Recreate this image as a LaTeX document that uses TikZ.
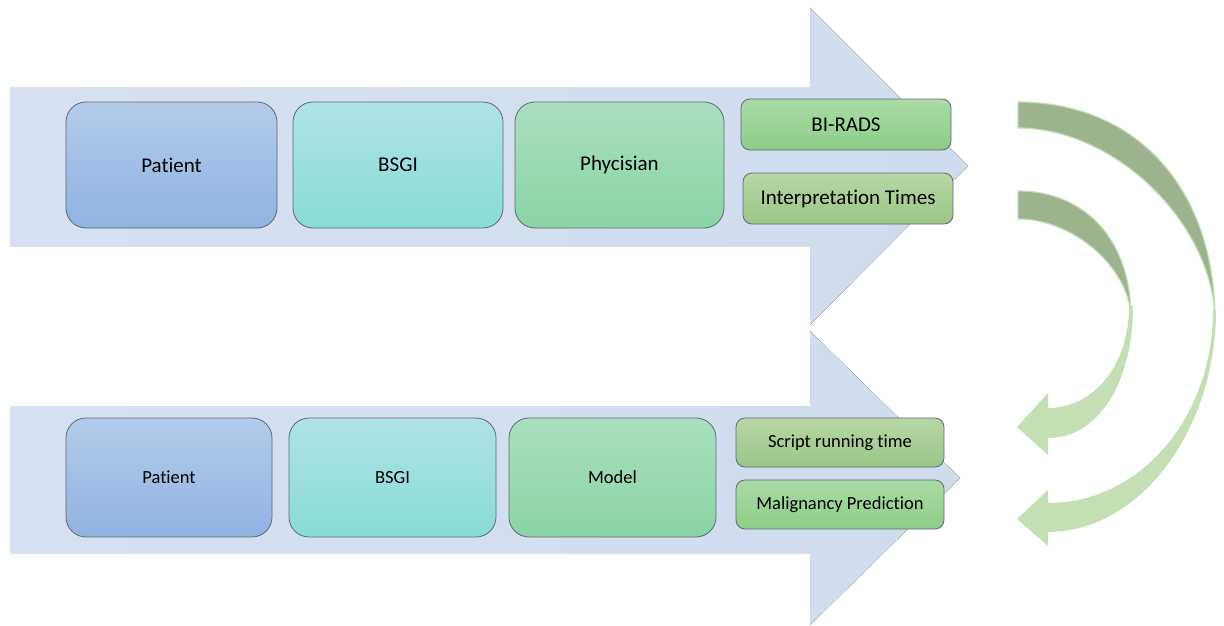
\documentclass[tikz,border=0pt]{standalone}
\usepackage{fontspec}
\setmainfont[Ligatures={NoCommon,NoRare}, RawFeature={-calt}]{Carlito}
\usepackage{xcolor}
\usepackage{tikz}
\usetikzlibrary{positioning,shapes,arrows}
\definecolor{flowblue}{HTML}{D0DCEE}
\definecolor{flowbluel}{HTML}{D6E0F0}
\definecolor{patienttop}{HTML}{B4CCEB}
\definecolor{patientbot}{HTML}{8FB3E2}
\definecolor{bsgitop}{HTML}{AEE2E6}
\definecolor{bsgibot}{HTML}{88DCD6}
\definecolor{readtop}{HTML}{AADFC0}
\definecolor{readbot}{HTML}{8AD4A4}
\definecolor{outtop}{HTML}{A9DBA4}
\definecolor{outbot}{HTML}{8DCE89}
\definecolor{timetop}{HTML}{B7D7A4}
\definecolor{timebot}{HTML}{9DC587}
\definecolor{loopdark}{HTML}{9CB38D}
\definecolor{looplight}{HTML}{C5DFB5}
\definecolor{boxline}{HTML}{5F6873}
\tikzstyle{bigbox} = [rectangle, rounded corners=20pt, draw=boxline, line width=0.8pt, inner sep=0pt, text centered]
\tikzstyle{smallbox} = [rectangle, rounded corners=9pt, draw=boxline, line width=0.8pt, inner sep=0pt, text centered]
\tikzstyle{toprow} = [font=\fontsize{21}{25}\selectfont]
\tikzstyle{botrow} = [font=\fontsize{18.5}{22}\selectfont]
\tikzstyle{flow} = [left color=flowbluel, right color=flowblue, draw=none]

\begin{document}
\begin{tikzpicture}[x=1pt,y=-1pt]
\useasboundingbox (0,0) rectangle (1224,626);
\fill[flow] (10,88) -- (810,88) -- (810,8) -- (968,166) -- (810,325) -- (810,246) -- (10,246) -- cycle;
\fill[flow] (10,406) -- (810,406) -- (810,331) -- (960,478) -- (810,625) -- (810,553) -- (10,553) -- cycle;
\node (patient1) at (171.5,165) [bigbox, toprow, minimum width=211pt, minimum height=126pt, top color=patienttop, bottom color=patientbot] {Patient};
\node (bsgi1) at (398,165) [bigbox, toprow, minimum width=210pt, minimum height=126pt, top color=bsgitop, bottom color=bsgibot] {BSGI};
\node (phys) at (619.5,165) [bigbox, toprow, minimum width=209pt, minimum height=126pt, top color=readtop, bottom color=readbot] {Phycisian};
\node (birads) at (846,124.5) [smallbox, toprow, minimum width=210pt, minimum height=51pt, top color=outtop, bottom color=outbot] {BI-RADS};
\node (itimes) at (848,198.5) [smallbox, toprow, minimum width=210pt, minimum height=51pt, top color=timetop, bottom color=timebot] {Interpretation Times};
\node (patient2) at (169,477.5) [bigbox, botrow, minimum width=206pt, minimum height=119pt, top color=patienttop, bottom color=patientbot] {Patient};
\node (bsgi2) at (392.5,477.5) [bigbox, botrow, minimum width=207pt, minimum height=119pt, top color=bsgitop, bottom color=bsgibot] {BSGI};
\node (model) at (612.5,477.5) [bigbox, botrow, minimum width=207pt, minimum height=119pt, top color=readtop, bottom color=readbot] {Model};
\node (stime) at (840,442.5) [smallbox, botrow, minimum width=208pt, minimum height=49pt, top color=timetop, bottom color=timebot] {Script running time};
\node (malig) at (840,504.5) [smallbox, botrow, minimum width=208pt, minimum height=49pt, top color=outtop, bottom color=outbot] {Malignancy Prediction};
\fill[looplight] (1213,310) .. controls (1213,418) and (1140,503) .. (1048,503) -- (1048,490) -- (1017,519) -- (1048,546) -- (1048,532) .. controls (1140,532) and (1216,430) .. (1216,310) -- cycle;
\filldraw[fill=loopdark, draw=looplight, line width=1.2pt] (1018,102) .. controls (1136,102) and (1215,188) .. (1215,320) .. controls (1213,223) and (1115,128) .. (1018,128) -- cycle;
\fill[looplight] (1129,306) .. controls (1129,365) and (1094,408) .. (1048,408) -- (1048,393) -- (1017,427) -- (1048,455) -- (1048,438) .. controls (1100,438) and (1133,380) .. (1133,306) -- cycle;
\filldraw[fill=loopdark, draw=looplight, line width=1.2pt] (1018,191) .. controls (1086,191) and (1131,241) .. (1131,317) .. controls (1129,267) and (1073,219) .. (1018,219) -- cycle;
\end{tikzpicture}
\end{document}
